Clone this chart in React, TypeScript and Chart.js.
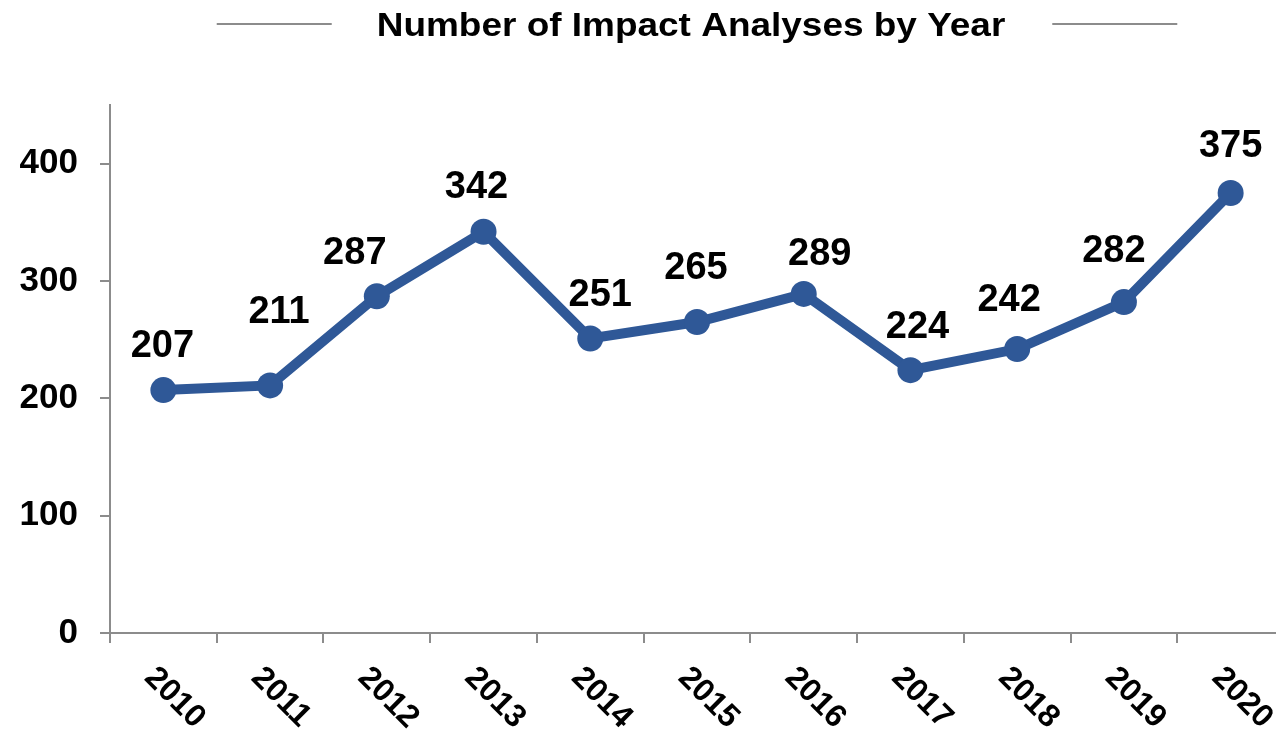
import { useEffect, useRef } from 'react';
import { Chart, registerables } from 'chart.js';

Chart.register(...registerables);

const TITLE = 'Number of Impact Analyses by Year';
const years = ['2010', '2011', '2012', '2013', '2014', '2015', '2016', '2017', '2018', '2019', '2020'];
const counts = [207, 211, 287, 342, 251, 265, 289, 224, 242, 282, 375];
const yTickValues = [0, 100, 200, 300, 400];
const Y_MAX = 450;

// Label placement nudges (pixels, relative to each point), as Excel positioned them
const labelDx = [-1, 9, -22, -7, 10, -1, 16, 7, -8, -10, 0];
const labelDy = [-33, -62, -32, -34, -32, -43, -29, -32, -38, -40, -36];

const FONT = '"Liberation Sans", Arial, sans-serif';
const LINE_COLOR = '#2F5897';
const AXIS_COLOR = '#8C8C8C';
const TITLE_STRETCH = 1.12;

const overlay = {
  id: 'overlay',
  afterDraw(chart: any) {
    const { ctx, chartArea, scales } = chart;
    ctx.save();
    // Title with side rules
    ctx.font = `bold 33px ${FONT}`;
    ctx.fillStyle = '#000';
    ctx.textAlign = 'center';
    ctx.textBaseline = 'alphabetic';
    const cx = (chartArea.left + chartArea.right) / 2 - 6;
    ctx.save();
    ctx.translate(cx, 36);
    ctx.scale(TITLE_STRETCH, 1);
    ctx.fillText(TITLE, 0, 0);
    ctx.restore();
    const w = ctx.measureText(TITLE).width * TITLE_STRETCH;
    const tl = cx - w / 2;
    const tr = cx + w / 2;
    ctx.strokeStyle = AXIS_COLOR;
    ctx.lineWidth = 2;
    ctx.beginPath();
    ctx.moveTo(tl - 160, 24);
    ctx.lineTo(tl - 45, 24);
    ctx.moveTo(tr + 47, 24);
    ctx.lineTo(tr + 172, 24);
    ctx.stroke();

    // Data labels
    const meta = chart.getDatasetMeta(0);
    ctx.font = `bold 38px ${FONT}`;
    ctx.textAlign = 'center';
    meta.data.forEach((pt: any, i: number) => {
      ctx.fillText(String(counts[i]), pt.x + labelDx[i], pt.y + labelDy[i]);
    });

    // Rotated x labels (clockwise)
    ctx.font = `bold 32px ${FONT}`;
    ctx.textAlign = 'left';
    years.forEach((label, i) => {
      const x = scales.x.getPixelForValue(i);
      ctx.save();
      ctx.translate(x - 20, chartArea.bottom + 46);
      ctx.rotate(Math.PI / 4);
      ctx.fillText(label, 0, 0);
      ctx.restore();
    });
    ctx.restore();
  },
};

export default function App() {
  const ref = useRef<HTMLCanvasElement>(null);

  useEffect(() => {
    if (!ref.current) return;
    const chart = new Chart(ref.current, {
      type: 'line',
      data: {
        labels: years,
        datasets: [
          {
            data: counts,
            borderColor: LINE_COLOR,
            backgroundColor: LINE_COLOR,
            borderWidth: 10,
            pointRadius: 13,
            pointHoverRadius: 13,
            pointBackgroundColor: LINE_COLOR,
            pointBorderWidth: 0,
            tension: 0,
            clip: false as any,
          },
        ],
      },
      options: {
        responsive: false,
        animation: false,
        layout: { padding: { top: 105, left: 0, right: 0, bottom: 0 } },
        plugins: {
          legend: { display: false },
          title: { display: false },
          tooltip: { enabled: false },
        },
        scales: {
          x: {
            offset: true,
            grid: {
              offset: true,
              drawOnChartArea: false,
              drawTicks: true,
              tickLength: 10,
              color: AXIS_COLOR,
              lineWidth: 2,
            },
            border: { color: AXIS_COLOR, width: 2 },
            ticks: { display: false, autoSkip: false },
            afterFit: (scale: any) => {
              scale.height = 98;
            },
          },
          y: {
            min: 0,
            max: Y_MAX,
            grid: {
              drawOnChartArea: false,
              drawTicks: true,
              tickLength: 10,
              color: AXIS_COLOR,
              lineWidth: 2,
            },
            border: { color: AXIS_COLOR, width: 2 },
            ticks: {
              stepSize: 100,
              padding: 22,
              color: '#000',
              font: { family: FONT, size: 35, weight: 'bold' },
            },
            afterBuildTicks: (scale: any) => {
              scale.ticks = yTickValues.map((v) => ({ value: v }));
            },
            afterFit: (scale: any) => {
              scale.width = 110;
            },
          },
        },
      },
      plugins: [overlay],
    });
    return () => chart.destroy();
  }, []);

  return (
    <div
      style={{
        position: 'fixed',
        left: 0,
        top: 0,
        width: 1276,
        height: 731,
        overflow: 'hidden',
        background: '#fff',
      }}
    >
      <canvas ref={ref} width={1297} height={731} style={{ display: 'block' }} />
    </div>
  );
}
